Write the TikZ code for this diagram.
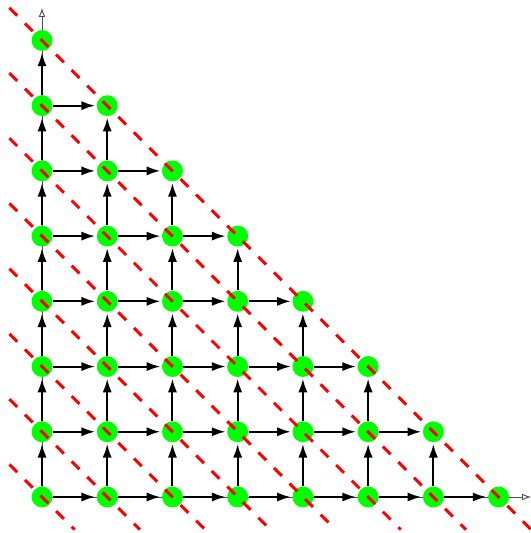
\documentclass[tikz,border=0pt]{standalone}
\usepackage{tikz}
\usetikzlibrary{arrows.meta}

\begin{document}
\begin{tikzpicture}[
  arrow/.style={-{Latex[length=6pt,width=4pt]}, line width=0.9pt, shorten >=0.5pt},
  axis/.style={-{Latex[open, length=4pt, width=3pt]}, line width=0.4pt, draw=black!70},
  state/.style={circle, fill=green, inner sep=0pt, minimum size=0.32cm},
  level/.style={draw=red, line width=1.3pt, dash pattern=on 4.8pt off 4.8pt}
]
  \useasboundingbox (-0.644,-0.552) rectangle (7.485,7.62);

  % Axes
  \coordinate (xend) at (7.5,0);
  \coordinate (yend) at (0,7.5);
  \draw[axis] (0,0) -- (xend);
  \draw[axis] (0,0) -- (yend);

  % Lattice states (i+j <= 7)
  \foreach \i in {0,...,7} {
    \pgfmathtruncatemacro\jmax{7-\i}
    \foreach \j in {0,...,\jmax} {
      \node (n-\i-\j) [state] at (\i,\j) {};
    }
  }

  % Transitions right and up
  \foreach \i in {0,...,6} {
    \pgfmathtruncatemacro\jmax{6-\i}
    \foreach \j in {0,...,\jmax} {
      \pgfmathtruncatemacro\ii{\i+1}
      \pgfmathtruncatemacro\jj{\j+1}
      \draw[arrow] (n-\i-\j) -- (n-\ii-\j);
      \draw[arrow] (n-\i-\j) -- (n-\i-\jj);
    }
  }

  % Diagonal levels i+j = k
  \foreach \k in {0,...,7} {
    \coordinate (lo-\k) at (-0.5,\k+0.5);
    \coordinate (hi-\k) at (\k+0.5,-0.5);
    \draw[level] (lo-\k) -- (hi-\k);
  }

\end{tikzpicture}
\end{document}
